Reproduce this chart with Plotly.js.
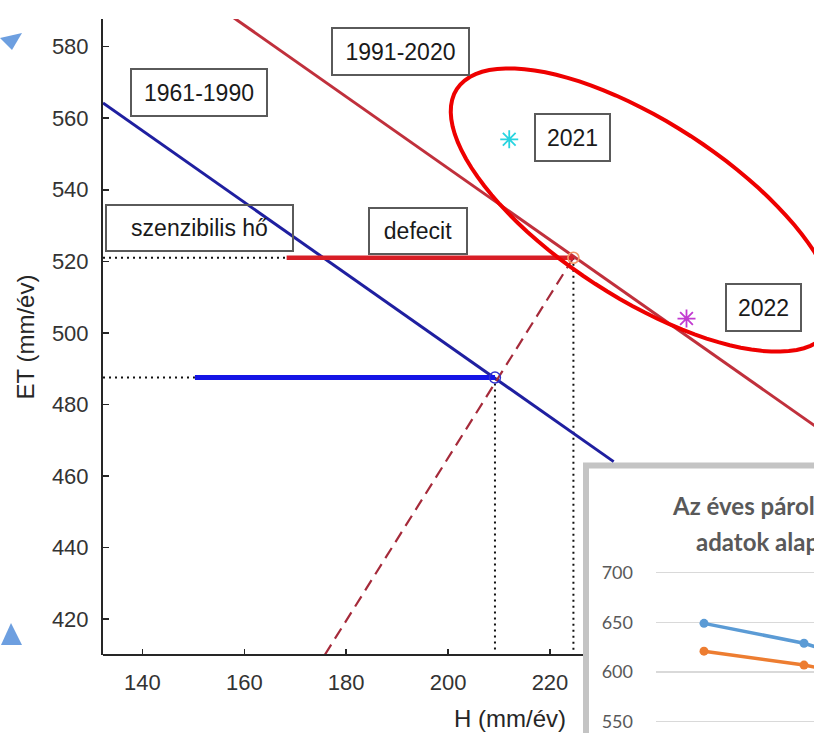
<!DOCTYPE html>
<html>
<head>
<meta charset="utf-8">
<script src="https://cdn.plot.ly/plotly-3.0.1.min.js"></script>
<style>
  html, body { margin: 0; padding: 0; background: #ffffff; }
  #chart { width: 814px; height: 733px; }
</style>
</head>
<body>
<div id="chart"></div>
<script>
// ---- Energy-balance lines (H = sensible heat, ET = evapotranspiration, mm/év) ----
const line6190H = [132.25, 232.5];
const line6190ET = [564.25, 464.0];
const line9120H = [156.0, 272.0];
const line9120ET = [590.0, 474.0];

// horizontal segments: "defecit" (red) and "szenzibilis hő" (blue)
const deficitH = [168.3, 224.6];
const deficitET = [521.0, 521.0];
const sensibleH = [150.3, 209.2];
const sensibleET = [487.5, 487.5];

// dotted guide lines
const guideRedH = [132.25, 168.3];
const guideRedET = [521.0, 521.0];
const guideBlueH = [132.25, 150.3];
const guideBlueET = [487.5, 487.5];
const dropBlueH = [209.2, 209.2];
const dropBlueET = [487.5, 410.5];
const dropRedH = [224.6, 224.6];
const dropRedET = [521.0, 410.5];

// dashed shift line between the two balance points
const shiftH = [175.8, 224.6];
const shiftET = [410.0, 521.0];

// balance points
const pointBlue = {H: [209.2], ET: [487.5]};
const pointRed = {H: [224.6], ET: [521.0]};
const year2021 = {H: [212.0], ET: [554.1]};
const year2022 = {H: [246.8], ET: [504.0]};

// axis extent and tick labels
const xRange = [132.25, 271.83];
const xAxisEnd = 226.48;
const xTicks = [140, 160, 180, 200, 220];
const yRange = [409.94, 587.74];
const yTicks = [420, 440, 460, 480, 500, 520, 540, 560, 580];

// ---- small embedded chart ----
const insetIdx = [0, 1, 2];
const insetBlue = [649, 629, 597];
const insetOrange = [621, 607, 588];
const insetTicks = [550, 600, 650, 700];

const W = 814, Hh = 733;
const px = x => x / W;
const py = y => 1 - y / Hh;

const FONT = 'Liberation Sans, Arial, sans-serif';

function line(x, y, color, width, dash) {
  return {x: x, y: y, type: 'scatter', mode: 'lines', xaxis: 'x', yaxis: 'y',
          line: {color: color, width: width, dash: dash || 'solid'}, hoverinfo: 'skip'};
}

const traces = [
  line(guideRedH, guideRedET, '#111111', 2, '2px,4px'),
  line(guideBlueH, guideBlueET, '#111111', 2, '2px,4px'),
  line(dropBlueH, dropBlueET, '#111111', 2, '2px,4px'),
  line(dropRedH, dropRedET, '#111111', 2, '2px,4px'),
  line(line6190H, line6190ET, '#1f1fa0', 3),
  line(line9120H, line9120ET, '#c0303c', 3),
  line(shiftH, shiftET, '#a52a3a', 2.2, '12px,7px'),
  line(deficitH, deficitET, '#d81e26', 4.5),
  line(sensibleH, sensibleET, '#1414e6', 5),
  {x: pointBlue.H, y: pointBlue.ET, type: 'scatter', mode: 'markers',
   marker: {symbol: 'circle-open', size: 11, color: '#3030d0', line: {width: 1.4}}},
  {x: pointRed.H, y: pointRed.ET, type: 'scatter', mode: 'markers',
   marker: {symbol: 'circle-open', size: 11, color: '#f39a6a', line: {width: 1.6}}},
  {x: year2021.H, y: year2021.ET, type: 'scatter', mode: 'markers',
   marker: {symbol: 'asterisk-open', size: 15, color: '#28d4e0', line: {width: 1.8, color: '#28d4e0'}}},
  {x: year2022.H, y: year2022.ET, type: 'scatter', mode: 'markers',
   marker: {symbol: 'asterisk-open', size: 15, color: '#c23ad0', line: {width: 1.8, color: '#c23ad0'}}},
  // embedded chart series
  {x: insetIdx, y: insetBlue, type: 'scatter', mode: 'lines+markers', xaxis: 'x2', yaxis: 'y2',
   line: {color: '#5b9bd5', width: 3.5}, marker: {size: 9, color: '#5b9bd5'}},
  {x: insetIdx, y: insetOrange, type: 'scatter', mode: 'lines+markers', xaxis: 'x2', yaxis: 'y2',
   line: {color: '#ed7d31', width: 3.5}, marker: {size: 9, color: '#ed7d31'}}
];

// highlight ellipse around the 2021/2022 points (drawn in page coordinates)
function ellipsePath(cx, cy, a, b, deg) {
  const th = deg * Math.PI / 180;
  let d = '';
  for (let i = 0; i <= 96; i++) {
    const t = 2 * Math.PI * i / 96;
    const x = cx + a * Math.cos(t) * Math.cos(th) - b * Math.sin(t) * Math.sin(th);
    const y = cy + a * Math.cos(t) * Math.sin(th) + b * Math.sin(t) * Math.cos(th);
    d += (i === 0 ? 'M' : 'L') + px(x).toFixed(5) + ',' + py(y).toFixed(5);
  }
  return d + 'Z';
}
function polyPath(pts) {
  return pts.map((p, i) => (i === 0 ? 'M' : 'L') + px(p[0]).toFixed(5) + ',' + py(p[1]).toFixed(5)).join('') + 'Z';
}

const shapes = [
  // embedded chart frame
  {type: 'rect', xref: 'paper', yref: 'paper', x0: px(586), x1: px(830), y0: py(465.5), y1: py(760),
   fillcolor: '#ffffff', line: {color: '#c4c4c4', width: 6}, layer: 'below'},
  // bottom axis line (stops at the embedded chart)
  {type: 'line', xref: 'x', yref: 'paper', x0: xRange[0], x1: xAxisEnd, y0: py(655), y1: py(655),
   line: {color: '#262626', width: 2}, layer: 'above'},
  // ellipse
  {type: 'path', xref: 'paper', yref: 'paper', path: ellipsePath(643, 210, 222, 88, 33),
   line: {color: '#ee0000', width: 4}, layer: 'above'},
  // arrow heads at the left edge
  {type: 'path', xref: 'paper', yref: 'paper', path: polyPath([[22, 33], [0, 38], [12, 50]]),
   fillcolor: '#6d9fe0', line: {width: 0}, layer: 'above'},
  {type: 'path', xref: 'paper', yref: 'paper', path: polyPath([[11, 623], [22, 645], [1, 645]]),
   fillcolor: '#6d9fe0', line: {width: 0}, layer: 'above'}
];

function box(text, x0, y0, x1, y1) {
  return {text: text, xref: 'paper', yref: 'paper', x: px((x0 + x1) / 2), y: py((y0 + y1) / 2),
          xanchor: 'center', yanchor: 'middle', showarrow: false,
          width: (x1 - x0) - 4, height: (y1 - y0) - 4, borderpad: 0, borderwidth: 2,
          bordercolor: '#5a5a5a', font: {family: FONT, size: 23, color: '#1a1a1a'}};
}

const annotations = [
  box('1961-1990', 130, 68, 268, 117),
  box('1991-2020', 331, 27, 470, 76),
  box('2021', 534, 113, 611, 162),
  box('2022', 725, 283, 802, 332),
  box('szenzibilis hő', 105, 204, 294, 252),
  box('defecit', 368, 207, 468, 255),
  {text: 'H (mm/év)', xref: 'paper', yref: 'paper', x: px(568), y: py(718), xanchor: 'right', yanchor: 'middle',
   showarrow: false, font: {family: FONT, size: 24, color: '#262626'}},
  {text: '<b>Az éves párolgás</b>', xref: 'paper', yref: 'paper', x: px(670), y: py(505),
   xanchor: 'left', yanchor: 'middle', showarrow: false, font: {family: 'Lato, sans-serif', size: 24, color: '#595959'}},
  {text: '<b>adatok alapján</b>', xref: 'paper', yref: 'paper', x: px(694), y: py(541),
   xanchor: 'left', yanchor: 'middle', showarrow: false, font: {family: 'Lato, sans-serif', size: 24, color: '#595959'}}
];

const layout = {
  width: W, height: Hh,
  margin: {l: 0, r: 0, t: 0, b: 0},
  paper_bgcolor: '#ffffff', plot_bgcolor: 'rgba(0,0,0,0)',
  showlegend: false,
  xaxis: {domain: [px(103), 1], range: xRange, anchor: 'y',
          showline: false, ticks: 'inside', ticklen: 6, tickwidth: 1.5,
          tickcolor: '#262626', tickvals: xTicks, ticklabelstandoff: 12,
          tickfont: {family: FONT, size: 22, color: '#333333'}, showgrid: false, zeroline: false},
  yaxis: {domain: [py(655), py(19)], range: yRange, anchor: 'x',
          showline: true, linecolor: '#262626', linewidth: 2, ticks: 'inside', ticklen: 6, tickwidth: 1.5,
          tickcolor: '#262626', tickvals: yTicks, ticklabelstandoff: 8,
          tickfont: {family: FONT, size: 22, color: '#333333'}, showgrid: false, zeroline: false,
          title: {text: 'ET (mm/év)', font: {family: FONT, size: 24, color: '#262626'}, standoff: 10}},
  xaxis2: {domain: [px(656), 1], range: [-0.48, 1.1], anchor: 'y2', showticklabels: false,
           showgrid: false, zeroline: false, showline: false, ticks: ''},
  yaxis2: {domain: [0, py(560)], range: [538.6, 712.8], anchor: 'x2', tickvals: insetTicks,
           showgrid: true, gridcolor: '#d9d9d9', gridwidth: 1.2, zeroline: false, showline: false,
           ticks: '', ticklabelstandoff: 22, tickfont: {family: 'Lato, sans-serif', size: 18, color: '#595959'}},
  shapes: shapes,
  annotations: annotations
};

Plotly.newPlot('chart', traces, layout, {staticPlot: true, displayModeBar: false});
</script>
</body>
</html>
